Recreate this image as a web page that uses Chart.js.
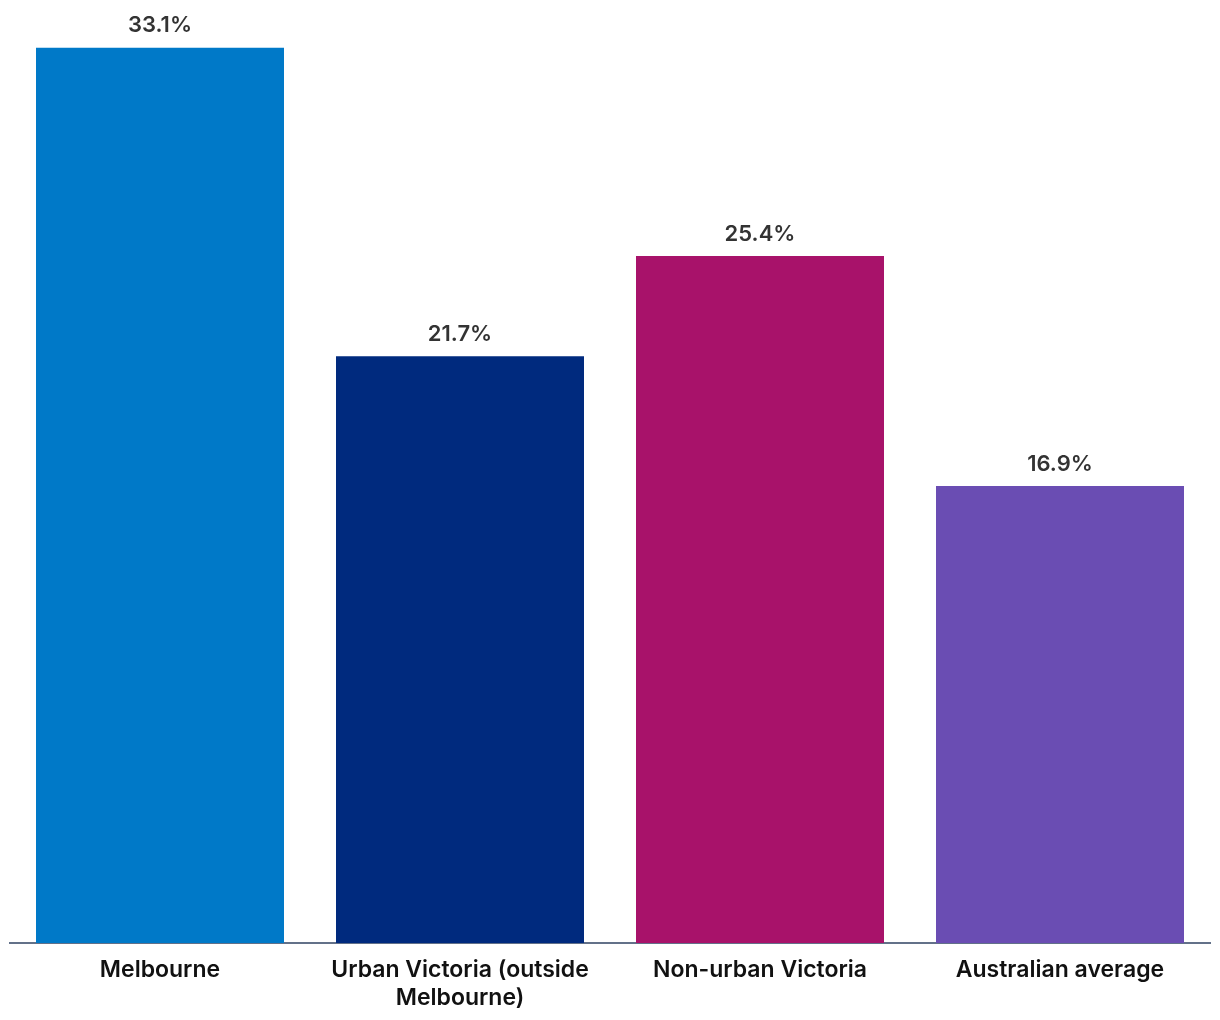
<!DOCTYPE html>
<html>
<head>
<meta charset="utf-8">
<script src="https://cdn.jsdelivr.net/npm/chart.js@4/dist/chart.umd.min.js"></script>
<style>
  html, body { margin: 0; padding: 0; background: #fff; }
  #wrap { width: 1220px; height: 1020px; }
</style>
</head>
<body>
<div id="wrap"><canvas id="myBarChart" width="1220" height="1020"></canvas></div>
<script>
// data
const categories = [['Melbourne'], ['Urban Victoria (outside', 'Melbourne)'], ['Non-urban Victoria'], ['Australian average']];
const shares = [33.1, 21.7, 25.4, 16.9];
const barColours = ['#0079c8', '#002a7e', '#a8126a', '#6a4db3'];

// value labels above bars
const valueLabels = {
    id: 'valueLabels',
    afterDatasetsDraw(chart) {
        const ctx = chart.ctx;
        const meta = chart.getDatasetMeta(0);
        ctx.save();
        ctx.font = '600 22px Inter, "Noto Sans", sans-serif';
        ctx.fillStyle = '#333333';
        ctx.textAlign = 'center';
        ctx.textBaseline = 'middle';
        meta.data.forEach((bar, i) => {
            ctx.fillText(shares[i].toFixed(1) + '%', bar.x, bar.y - 22);
        });
        ctx.restore();
    }
};

const ctxBar = document.getElementById('myBarChart').getContext('2d');
const myBarChart = new Chart(ctxBar, {
    type: 'bar',
    data: {
        labels: categories,
        datasets: [{
            data: shares,
            backgroundColor: barColours,
            borderWidth: 0,
            categoryPercentage: 1,
            barPercentage: 248 / 300
        }]
    },
    options: {
        responsive: false,
        animation: false,
        layout: { padding: { top: 10, left: 10, right: 10, bottom: 0 } },
        plugins: {
            legend: { display: false },
            tooltip: { enabled: false }
        },
        scales: {
            x: {
                grid: { display: false },
                border: { display: true, color: '#637189', width: 2 },
                ticks: {
                    color: '#111111',
                    font: { family: 'Inter, "Noto Sans", sans-serif', size: 23, weight: '600', lineHeight: 1.22 },
                    padding: 5,
                    maxRotation: 0,
                    autoSkip: false
                },
                afterFit(scale) { scale.height = 77; }
            },
            y: {
                display: false,
                min: 0,
                max: 34.5
            }
        }
    },
    plugins: [valueLabels]
});
</script>
</body>
</html>
